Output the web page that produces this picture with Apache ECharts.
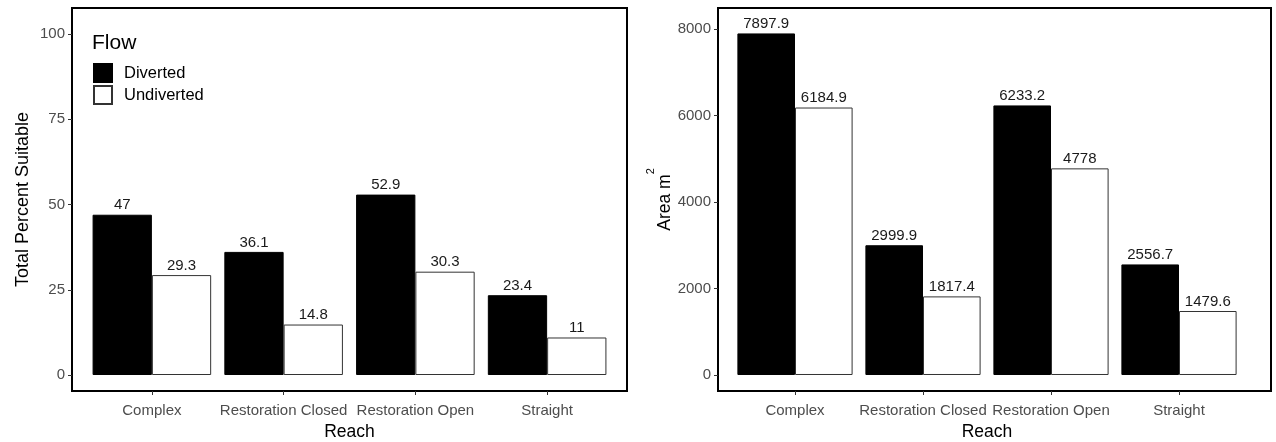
<!DOCTYPE html>
<html>
<head>
<meta charset="utf-8">
<script src="https://cdn.jsdelivr.net/npm/echarts@6/dist/echarts.min.js"></script>
<style>
  html, body { margin: 0; padding: 0; background: #fff; }
  #chart { width: 1276px; height: 442px; }
</style>
</head>
<body>
<div id="chart"></div>
<script>
// Reach categories and the two flow conditions
const categories = ['Complex', 'Restoration Closed', 'Restoration Open', 'Straight'];
const flowNames = ['Diverted', 'Undiverted'];

// Total percent suitable habitat per reach
const percentDiverted = [47, 36.1, 52.9, 23.4];
const percentUndiverted = [29.3, 14.8, 30.3, 11];

// Suitable area (m²) per reach
const areaDiverted = [7897.9, 2999.9, 6233.2, 2556.7];
const areaUndiverted = [6184.9, 1817.4, 4778, 1479.6];

// Tick values on the two value axes
const percentTicks = [0, 25, 50, 75, 100];
const areaTicks = [0, 2000, 4000, 6000, 8000];

const FONT = '"Liberation Sans", Arial, sans-serif';
const TICK_GREY = '#4d4d4d';

const chart = echarts.init(document.getElementById('chart'));

// Each panel: an outer frame grid (border + y axis) and an inner grid holding the bars,
// so the categories sit inset from the frame edges.
function frameYAxis(gridIndex, min, max, ticks, name, nameGap) {
  return {
    type: 'value', gridIndex, min, max,
    name, nameLocation: 'middle', nameGap, nameRotate: 90,
    nameTextStyle: {
      fontFamily: FONT, fontSize: 18, color: '#000',
      rich: {
        t: { fontFamily: FONT, fontSize: 17.5, color: '#000', lineHeight: 28, verticalAlign: 'bottom' },
        s: { fontFamily: FONT, fontSize: 11, color: '#000', verticalAlign: 'top' }
      }
    },
    splitLine: { show: false },
    axisLine: { show: false },
    axisTick: { show: true, length: 4, customValues: ticks, lineStyle: { color: '#333', width: 1 } },
    axisLabel: {
      customValues: ticks, margin: 7, fontFamily: FONT, fontSize: 15, color: TICK_GREY,
      formatter: (v) => String(v)
    }
  };
}

function dataXAxis(gridIndex) {
  return {
    type: 'category', gridIndex, data: categories,
    name: 'Reach', nameLocation: 'middle', nameGap: 32,
    nameTextStyle: { fontFamily: FONT, fontSize: 17.5, color: '#000' },
    axisLine: { show: false, onZero: false },
    axisTick: { show: true, alignWithLabel: true, length: 4, lineStyle: { color: '#333', width: 1 } },
    axisLabel: { margin: 12, fontFamily: FONT, fontSize: 15, color: TICK_GREY, interval: 0 }
  };
}

function barSeries(name, data, axisIndex, fill) {
  return {
    type: 'bar', name, data,
    xAxisIndex: axisIndex, yAxisIndex: axisIndex,
    barGap: '0%', barCategoryGap: '10%',
    itemStyle: { color: fill, borderColor: fill === '#000' ? '#000' : '#333', borderWidth: 1 },
    label: {
      show: true, position: 'top', distance: 2,
      fontFamily: FONT, fontSize: 15, color: '#1a1a1a'
    },
    emphasis: { disabled: true },
    animation: false
  };
}

const pMin = -4.69, pMax = 107.62;
const aMin = -370, aMax = 8486;

// Fixed pixel layout: panels are not resized to fit their labels
const gridBase = { top: 8, height: 383, outerBoundsMode: 'none', containLabel: false };

chart.setOption({
  animation: false,
  title: {
    text: 'Flow', left: 92, top: 33, padding: 0,
    textStyle: { fontFamily: FONT, fontSize: 21, fontWeight: 'normal', color: '#000' }
  },
  legend: {
    data: flowNames, orient: 'vertical', left: 93, top: 63, padding: 0,
    itemWidth: 18, itemHeight: 18, itemGap: 2, icon: 'rect',
    selectedMode: false,
    textStyle: { fontFamily: FONT, fontSize: 16.5, color: '#000', padding: [0, 0, 0, 7] }
  },
  grid: [
    Object.assign({ left: 72, width: 555, show: true, borderColor: '#000', borderWidth: 2, backgroundColor: 'transparent' }, gridBase),
    Object.assign({ left: 86, width: 527 }, gridBase),
    Object.assign({ left: 718, width: 553, show: true, borderColor: '#000', borderWidth: 2, backgroundColor: 'transparent' }, gridBase),
    Object.assign({ left: 731, width: 512 }, gridBase)
  ],
  xAxis: [
    { type: 'category', gridIndex: 0, data: categories, show: false },
    dataXAxis(1),
    { type: 'category', gridIndex: 2, data: categories, show: false },
    dataXAxis(3)
  ],
  yAxis: [
    frameYAxis(0, pMin, pMax, percentTicks, 'Total Percent Suitable', 40),
    { type: 'value', gridIndex: 1, min: pMin, max: pMax, show: false, splitLine: { show: false } },
    frameYAxis(2, aMin, aMax, areaTicks, '{t|Area m}{s|2}', 42),
    { type: 'value', gridIndex: 3, min: aMin, max: aMax, show: false, splitLine: { show: false } }
  ],
  series: [
    barSeries('Diverted', percentDiverted, 1, '#000'),
    barSeries('Undiverted', percentUndiverted, 1, '#fff'),
    barSeries('Diverted', areaDiverted, 3, '#000'),
    barSeries('Undiverted', areaUndiverted, 3, '#fff')
  ]
});
</script>
</body>
</html>
